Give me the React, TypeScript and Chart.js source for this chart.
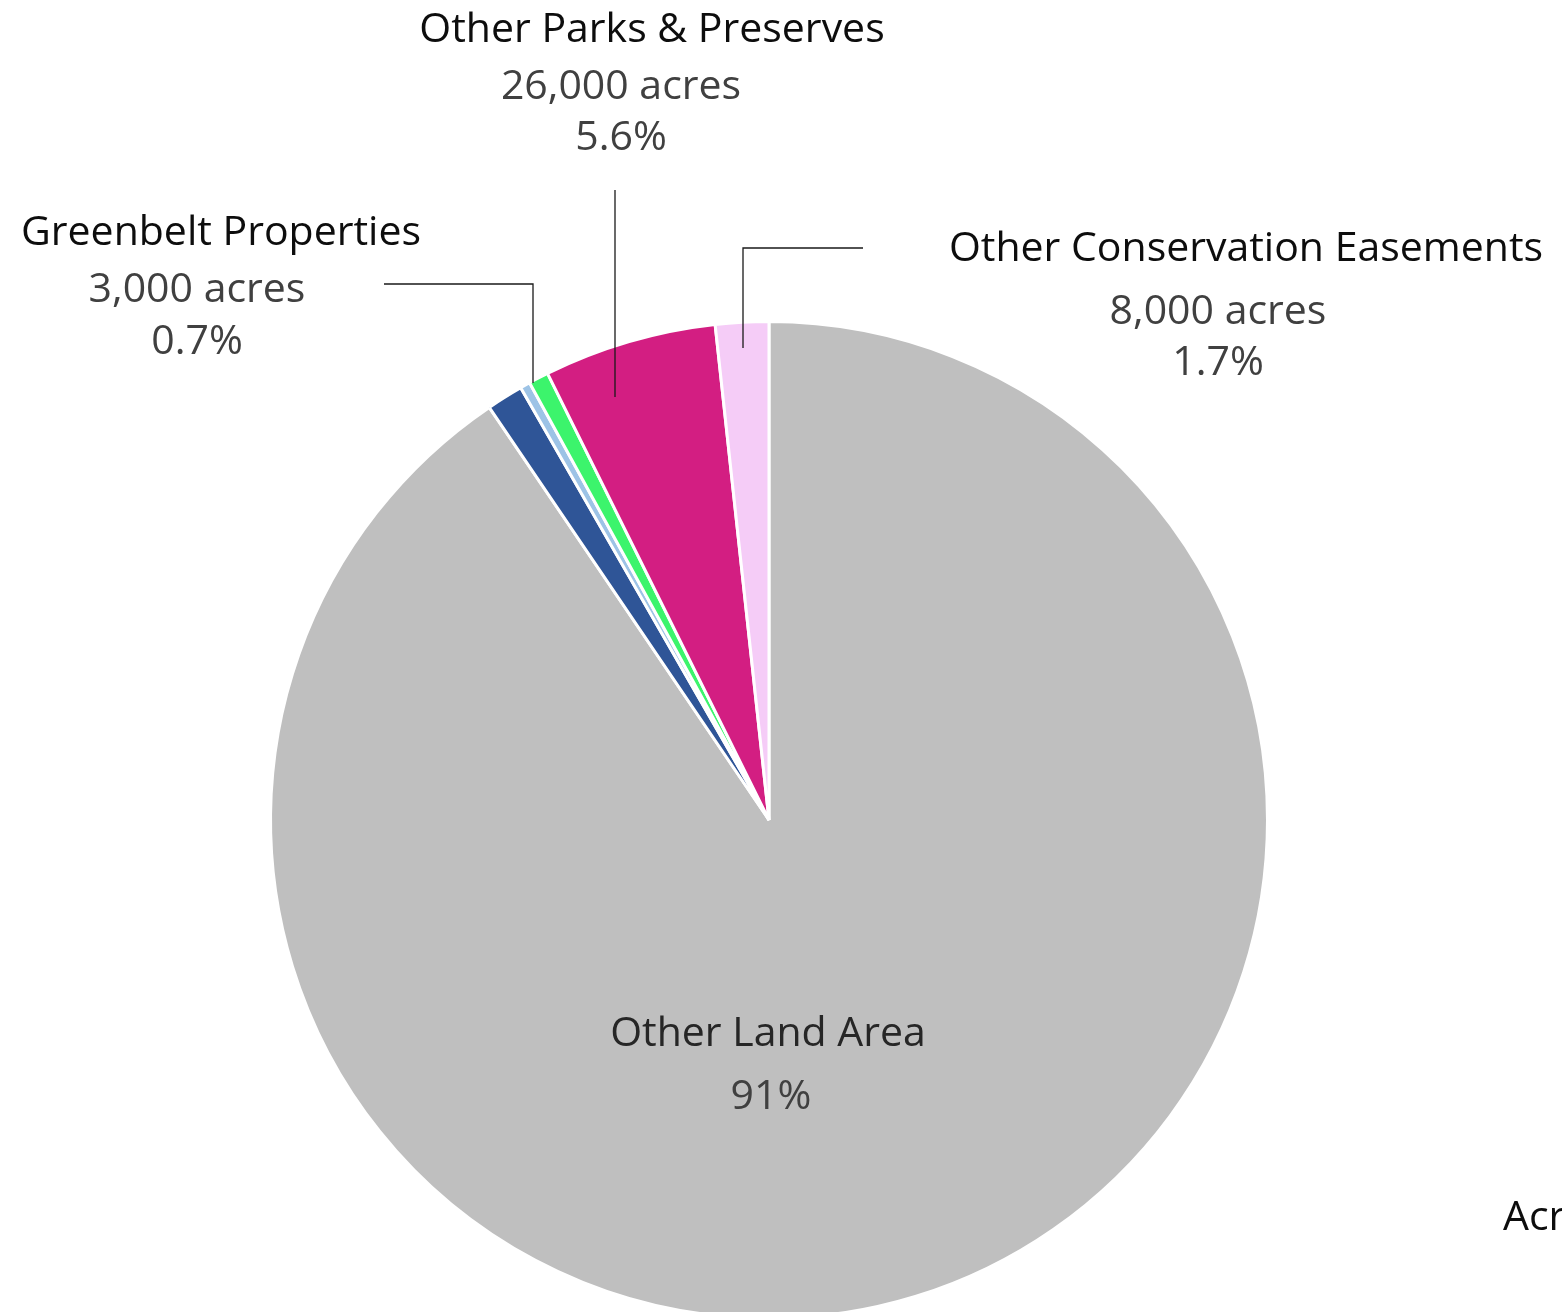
import React, { useEffect, useRef } from "react";
import { Chart, registerables } from "chart.js";

Chart.register(...registerables);

const categories = [
  "Other Land Area",
  "Other Protected Land",
  "Other Open Space",
  "Greenbelt Properties",
  "Other Parks & Preserves",
  "Other Conservation Easements",
];
const acres = [420000, 5500, 1500, 3000, 26000, 8000];
const acreLabels = ["", "", "", "3,000 acres", "26,000 acres", "8,000 acres"];
const percentLabels = ["91%", "", "", "0.7%", "5.6%", "1.7%"];
const sliceColors = ["#BFBFBF", "#2F5597", "#9DC3E6", "#3CF46C", "#D31E82", "#F5CCF7"];
const axisTitle = "Acres";

const FONT = "'Open Sans', 'Noto Sans', sans-serif";

type LabelLayout = {
  name: [number, number];
  acres?: [number, number];
  pct: [number, number];
  line?: [number, number][];
};

const labelLayout: Record<number, LabelLayout> = {
  0: { name: [768, 1034], pct: [771, 1097] },
  3: { name: [221, 233], acres: [197, 290], pct: [197, 342], line: [[384, 284], [533, 284], [533, 383]] },
  4: { name: [652, 30], acres: [621, 87], pct: [621, 138], line: [[615, 190], [615, 397]] },
  5: { name: [1246, 249], acres: [1218, 312], pct: [1218, 363], line: [[863, 248], [743, 248], [743, 348]] },
};

const labelPlugin = {
  id: "pieLabels",
  afterDraw(chart: any) {
    const ctx = chart.ctx as CanvasRenderingContext2D;
    ctx.save();
    ctx.strokeStyle = "#1a1a1a";
    ctx.lineWidth = 1.3;
    Object.keys(labelLayout).forEach((k) => {
      const l = labelLayout[+k];
      if (!l.line) return;
      ctx.beginPath();
      l.line.forEach(([x, y], i) => (i === 0 ? ctx.moveTo(x, y) : ctx.lineTo(x, y)));
      ctx.stroke();
    });
    ctx.textAlign = "center";
    ctx.textBaseline = "middle";
    ctx.font = `41px ${FONT}`;
    Object.keys(labelLayout).forEach((k) => {
      const i = +k;
      const l = labelLayout[i];
      ctx.fillStyle = i === 0 ? "#262626" : "#0d0d0d";
      ctx.fillText(categories[i], l.name[0], l.name[1]);
      ctx.fillStyle = "#404040";
      if (l.acres && acreLabels[i]) ctx.fillText(acreLabels[i], l.acres[0], l.acres[1]);
      ctx.fillText(percentLabels[i], l.pct[0], l.pct[1]);
    });
    ctx.textAlign = "left";
    ctx.fillStyle = "#0d0d0d";
    ctx.fillText(axisTitle, 1503, 1218);
    ctx.restore();
  },
};

export default function App() {
  const ref = useRef<HTMLCanvasElement | null>(null);
  useEffect(() => {
    document.body.style.margin = "0";
    const chart = new Chart(ref.current as HTMLCanvasElement, {
      type: "pie",
      data: {
        labels: categories,
        datasets: [
          {
            data: acres,
            backgroundColor: sliceColors,
            borderColor: "#FFFFFF",
            borderWidth: 3,
          },
        ],
      },
      options: {
        animation: false,
        responsive: false,
        rotation: 0,
        layout: { padding: { left: 269, right: 293, top: 320, bottom: 10 } },
        plugins: {
          legend: { display: false },
          tooltip: { enabled: false },
          title: { display: false },
        },
      },
      plugins: [labelPlugin],
    });
    return () => chart.destroy();
  }, []);
  return (
    <div style={{ width: 1562, height: 1312, overflow: "hidden", background: "#fff" }}>
      <canvas ref={ref} width={1562} height={1330} style={{ display: "block" }} />
    </div>
  );
}
